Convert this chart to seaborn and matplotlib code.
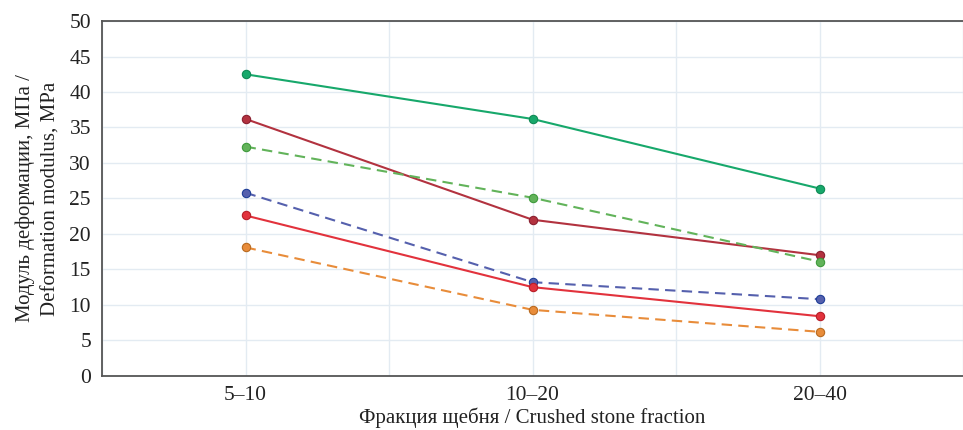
import pandas as pd
import seaborn as sns
import matplotlib.pyplot as plt

# fractions and deformation modulus values (MPa)
fractions = ['5–10', '10–20', '20–40']
green_solid = [42.5, 36.2, 26.4]
darkred_solid = [36.2, 22.0, 17.0]
green_dashed = [32.3, 25.1, 16.1]
blue_dashed = [25.8, 13.2, 10.8]
red_solid = [22.6, 12.5, 8.4]
orange_dashed = [18.1, 9.3, 6.2]

series = [
    (green_solid, '#17a86b', '#0f8a55', '-'),
    (darkred_solid, '#b2323f', '#8a2030', '-'),
    (green_dashed, '#62b35a', '#3f9a3c', '--'),
    (blue_dashed, '#5560ad', '#1f3f98', '--'),
    (red_solid, '#e2323c', '#b81e28', '-'),
    (orange_dashed, '#e88c3a', '#b86a20', '--'),
]

sns.set_style('white')
plt.rcParams['font.family'] = ['Liberation Serif', 'DejaVu Serif']

fig = plt.figure(figsize=(9.63, 4.3), dpi=100)
ax = fig.add_axes([0.106, 0.126, 0.894, 0.825])

for vals, col, edge, ls in series:
    df = pd.DataFrame({'x': range(len(fractions)), 'y': vals})
    line_kw = dict(dashes=(5, 3)) if ls == '--' else {}
    sns.lineplot(data=df, x='x', y='y', ax=ax, color=col,
                 linewidth=1.5, marker='o', markersize=6,
                 markerfacecolor=col, markeredgecolor=edge, markeredgewidth=0.8,
                 **line_kw)

ax.set_xlim(-0.5, 2.47)
ax.set_ylim(0, 50)
ax.set_yticks(range(0, 51, 5))
ax.set_xticks(range(len(fractions)))
ax.set_xticklabels(fractions)
ax.set_xticks([-0.5, 0.5, 1.5, 2.5], minor=True)
ax.grid(True, which='both', color='#e3ebf2', linewidth=1.0)
ax.set_axisbelow(True)
ax.tick_params(axis='both', which='both', length=0, labelsize=15.5, colors='#222222')
ax.tick_params(axis='x', pad=7)
ax.tick_params(axis='y', pad=8)

for side in ['left', 'bottom', 'top']:
    ax.spines[side].set_color('#555555')
    ax.spines[side].set_linewidth(1.3)
ax.spines['right'].set_visible(False)

ax.set_xlabel('Фракция щебня / Crushed stone fraction', fontsize=15, color='#222222', labelpad=2)
ax.set_ylabel('Модуль деформации, МПа /\nDeformation modulus, MPa', fontsize=15,
              color='#222222', labelpad=6, linespacing=1.5)

fig.savefig('out.png', dpi=100)
